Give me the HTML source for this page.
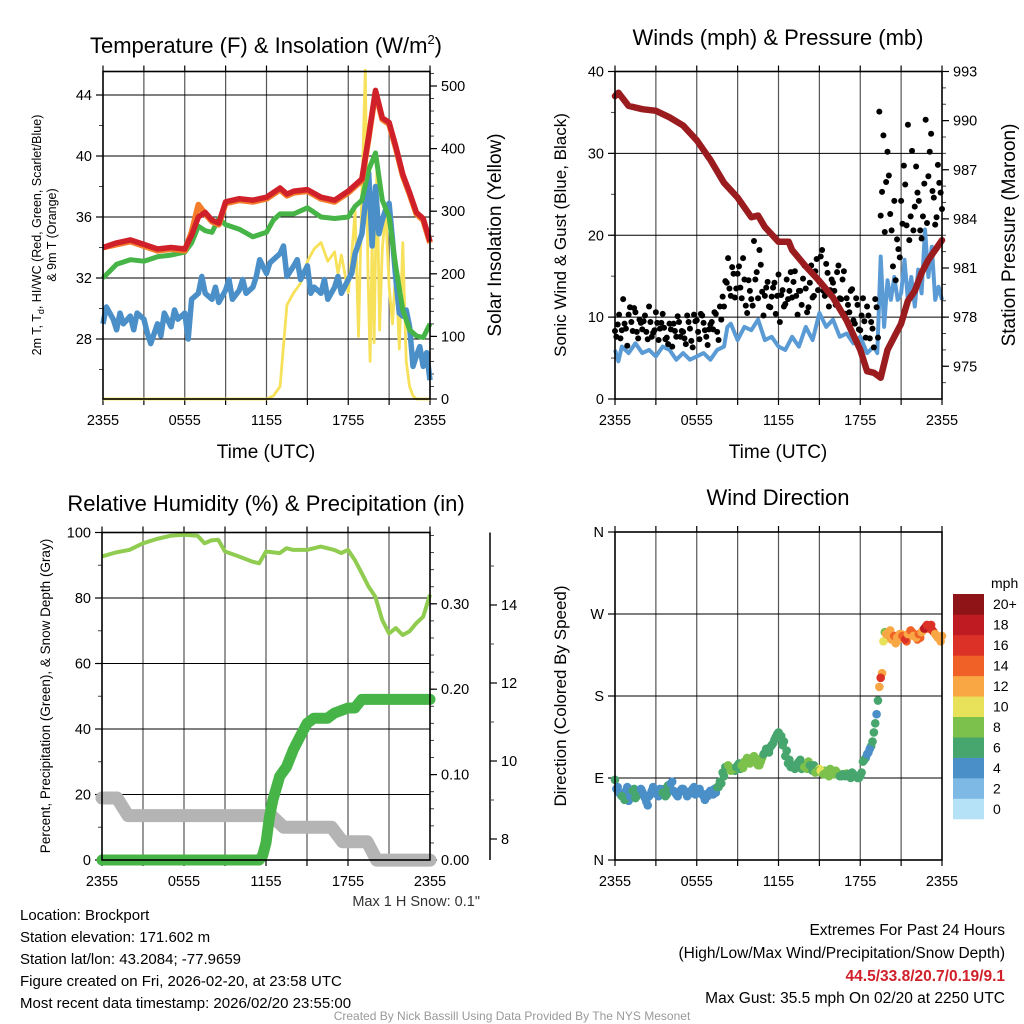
<!DOCTYPE html>
<html><head><meta charset="utf-8"><style>
html,body{margin:0;padding:0;background:#fff;}
svg{display:block;font-family:"Liberation Sans",Arial,sans-serif;}
</style></head><body>
<svg id="root" xmlns="http://www.w3.org/2000/svg" width="1024" height="1024" viewBox="0 0 1024 1024">
<rect width="1024" height="1024" fill="#fff"/>
<g id="layer"></g>
<text x="266" y="53" font-size="22" text-anchor="middle">Temperature (F) &amp; Insolation (W/m<tspan font-size="13" dy="-9">2</tspan><tspan dy="9">)</tspan></text>
<text x="778" y="45" font-size="22" text-anchor="middle">Winds (mph) &amp; Pressure (mb)</text>
<text x="266" y="511" font-size="22" text-anchor="middle">Relative Humidity (%) &amp; Precipitation (in)</text>
<text x="778" y="505" font-size="22" text-anchor="middle">Wind Direction</text>
<text transform="translate(41,235) rotate(-90)" font-size="12.5" text-anchor="middle">2m T, T<tspan font-size="9" dy="3">d</tspan><tspan dy="-3">, HI/WC (Red, Green, Scarlet/Blue)</tspan></text>
<text transform="translate(56,235) rotate(-90)" font-size="12.5" text-anchor="middle">&amp; 9m T (Orange)</text>
<text transform="translate(501,235) rotate(-90)" font-size="19" text-anchor="middle">Solar Insolation (Yellow)</text>
<text x="266" y="458" font-size="19" text-anchor="middle">Time (UTC)</text>
<text transform="translate(566,235) rotate(-90)" font-size="17" text-anchor="middle">Sonic Wind &amp; Gust (Blue, Black)</text>
<text transform="translate(1015,235) rotate(-90)" font-size="19" text-anchor="middle">Station Pressure (Maroon)</text>
<text x="778" y="458" font-size="19" text-anchor="middle">Time (UTC)</text>
<text transform="translate(50,696) rotate(-90)" font-size="13.5" text-anchor="middle">Percent, Precipitation (Green), &amp; Snow Depth (Gray)</text>
<text transform="translate(566,696) rotate(-90)" font-size="17" text-anchor="middle">Direction (Colored By Speed)</text>
<text x="480" y="906" font-size="14.5" text-anchor="end" fill="#333">Max 1 H Snow: 0.1"</text>
<text x="991" y="588" font-size="14">mph</text>
<g font-size="15">
<text x="20" y="920">Location: Brockport</text>
<text x="20" y="942">Station elevation: 171.602 m</text>
<text x="20" y="964">Station lat/lon: 43.2084; -77.9659</text>
<text x="20" y="986">Figure created on Fri, 2026-02-20, at 23:58 UTC</text>
<text x="20" y="1008">Most recent data timestamp: 2026/02/20 23:55:00</text>
</g>
<g font-size="15.5" text-anchor="end">
<text x="1005" y="935">Extremes For Past 24 Hours</text>
<text x="1005" y="958">(High/Low/Max Wind/Precipitation/Snow Depth)</text>
<text x="1005" y="981" fill="#d0202a" font-weight="bold">44.5/33.8/20.7/0.19/9.1</text>
<text x="1005" y="1003">Max Gust: 35.5 mph On 02/20 at 2250 UTC</text>
</g>
<text x="512" y="1020" font-size="12" fill="#999" text-anchor="middle">Created By Nick Bassill Using Data Provided By The NYS Mesonet</text>
</svg>
<script>
// ---------- data ----------
const xTickLabels = ["2355","0555","1155","1755","2355"];
const tempTicks = [28,32,36,40,44];
const solarTicks = [0,100,200,300,400,500];
const windTicks = [0,10,20,30,40];
const presTicks = [975,978,981,984,987,990,993];
const rhTicks = [0,20,40,60,80,100];
const precipTicks = [0,0.1,0.2,0.3];
const precipLabels = ["0.00","0.10","0.20","0.30"];
const snowTicks = [8,10,12,14];
const dirTicks = [0,90,180,270,360];
const dirLabels = ["N","E","S","W","N"];
const cbLabels = ["0","2","4","6","8","10","12","14","16","18","20+"];
const cbColors = ["#b5e2f7","#7eb9e5","#4a8fc8","#47a56e","#7cc14b","#e8e25a","#f8a744","#f06128","#dc3126","#be1b22","#8e1418"];

const redHours = [0,1,2,3,4,5,6,6.5,7,7.5,8,8.5,9,10,11,12,13,13.5,14,15,16,17,18,19,19.5,20,20.5,21,21.5,22,22.5,23,23.5,24];
const redTemp = [34.0,34.3,34.5,34.2,33.9,34.0,33.9,34.8,36.0,36.3,35.8,35.6,37.0,37.2,37.1,37.3,37.9,37.5,37.7,37.8,37.3,37.1,37.7,38.5,41.3,44.3,42.5,42.2,40.6,38.8,37.6,36.3,35.9,34.4];
const orangeTemp = [34.0,34.2,34.4,34.1,33.8,33.9,33.8,35.0,36.8,36.2,35.7,35.5,36.9,37.1,37.0,37.2,37.8,37.4,37.6,37.7,37.2,37.0,37.6,38.4,41.2,44.2,42.4,42.1,40.5,38.7,37.5,36.2,35.8,34.3];
const greenHours = [0,1,2,3,4,5,6,6.5,7,7.5,8,8.5,9,10,11,12,12.5,13,14,15,16,17,18,18.5,19,19.5,20,20.5,21,21.5,22,22.5,23,23.5,24];
const greenTemp = [32.0,32.9,33.2,33.1,33.4,33.5,33.7,34.3,35.4,35.1,35.0,35.9,35.5,35.2,34.7,35.0,35.8,36.2,36.2,36.6,36.0,35.9,36.0,36.7,37.1,39.1,40.2,37.1,36.0,32.7,29.9,28.6,28.2,28.1,29.0];
const blueHours = [0,0.25,0.5,0.75,1,1.25,1.5,2,2.25,2.5,3,3.25,3.5,4,4.25,4.5,5,5.25,5.5,6,6.25,6.5,7,7.25,7.5,8,8.25,8.5,9,9.25,9.5,10,10.25,10.5,11,11.25,11.5,12,12.25,12.5,13,13.25,13.5,14,14.25,14.5,15,15.25,15.5,16,16.25,16.5,17,17.25,17.5,18,18.25,18.5,19,19.25,19.5,19.75,20,20.25,20.5,20.75,21,21.25,21.5,21.75,22,22.25,22.5,22.75,23,23.25,23.5,23.75,24];
const blueTemp = [29.0,30.1,29.7,29.3,28.6,29.7,29.0,29.5,28.6,29.7,29.3,28.4,27.7,29.0,28.2,29.7,28.8,29.9,29.3,29.7,28.0,30.6,31.0,32.1,31.0,30.6,31.4,30.4,31.2,31.9,30.6,31.2,31.9,31.0,31.4,32.1,33.2,32.3,33.0,33.2,33.6,34.1,32.1,32.8,33.2,31.9,32.8,31.0,31.4,31.0,31.9,30.6,31.4,32.1,31.0,31.9,32.3,33.6,34.9,36.9,38.9,34.1,38.0,34.9,35.8,36.5,36.9,34.5,31.9,29.7,29.5,29.9,28.8,26.2,26.9,27.5,26.2,27.1,25.3];
const solarHours = [0,12,12.5,13,13.5,14,14.5,15,15.5,16,16.5,17,17.25,17.5,18,18.25,18.5,18.75,19,19.25,19.45,19.6,19.75,19.9,20.1,20.3,20.5,20.75,21,21.25,21.5,21.75,22,22.25,22.5,22.75,23,24];
const solarValue = [0,0,5,20,150,170,185,220,240,250,220,235,200,230,170,230,300,100,330,525,200,60,250,90,370,110,240,300,180,120,210,80,250,60,20,5,0,0];

const presHours = [0,0.25,1,2,3,4,5,6,7,8,9,10,10.5,11,12,12.75,13,14,15,16,17,18,18.5,19,19.5,20,20.5,21,21.5,22,22.5,23,23.5,24];
const presValue = [991.5,991.7,990.9,990.7,990.6,990.2,989.7,988.8,987.6,986.2,985.3,984.1,984.2,983.5,982.6,982.6,982.1,981.1,980.2,979.2,977.8,976.0,974.7,974.6,974.3,976.0,976.8,977.6,979.0,979.6,980.7,981.5,982.1,982.7];
const windHours = [0,0.25,0.5,1,1.5,2,2.5,3,3.5,4,4.5,5,5.5,6,6.5,7,7.5,8,8.25,8.5,9,9.5,10,10.5,11,11.5,12,12.5,13,13.5,14,14.5,15,15.5,16,16.5,17,17.5,18,18.5,19,19.25,19.5,19.75,20,20.25,20.5,20.75,21,21.25,21.5,21.75,22,22.25,22.5,22.75,23,23.25,23.5,23.75,24];
const windSpeed = [6.0,4.6,6.4,5.6,6.8,5.6,6.0,5.2,6.4,6.0,4.8,5.6,4.8,5.2,5.6,4.8,6.0,6.4,8.8,9.2,7.2,8.8,8.4,9.7,7.2,7.6,6.4,6.0,7.6,6.4,8.8,7.2,10.5,8.8,9.7,7.6,8.0,6.8,7.6,5.6,6.4,5.6,17.4,8.8,14.5,12.1,14.9,12.1,12.9,17.0,12.1,14.9,11.3,15.8,12.9,20.7,14.9,18.6,12.1,13.7,12.1];
// gusts every 0.2 h from 2355
const gustValue = [8.3,9.1,7.4,12.2,8.6, 10.3,9.4,11.1,8.2,9.7, 8.5,10.2,7.3,9.4,8.1, 10.6,7.2,9.3,8.7,7.5, 9.2,6.4,8.3,10.1,7.6, 8.2,6.7,9.4,7.1,10.3, 9.6,7.3,10.2,8.4,6.6, 9.1,8.5,10.4,7.2,9.7,
 11.3,14.2,13.5,16.1,12.4, 15.3,13.6,17.2,11.4,14.5, 12.2,19.3,15.5,18.2,13.1, 12.6,14.3,11.2,13.6,10.4, 15.2,12.7,11.3,14.6,13.2, 12.4,15.6,10.3,13.2,14.7, 13.5,11.2,16.3,12.6,17.1, 14.3,18.2,12.6,15.4,13.3,
 14.2,11.5,16.3,12.2,15.6, 12.3,10.6,13.4,9.2,11.5, 8.4,12.3,7.5,10.2,9.4, 6.3,11.2,35.1,25.3,20.4, 30.2,22.6,16.2,14.5,18.3, 24.2,28.5,21.2,19.4,30.3, 23.5,25.2,20.6,22.3,34.1, 27.2,32.4,24.6,22.2,26.4,23.2];
// gusts offset by 0.1 h
const gustValue2 = [7.6,10.3,8.4,9.2,6.5, 11.2,8.3,10.6,7.4,9.3, 9.5,8.2,11.3,7.6,8.4, 9.3,8.6,10.4,7.3,6.7, 8.5,9.2,7.6,9.4,8.3, 7.4,10.2,8.6,6.3,9.5, 8.2,10.4,9.3,7.6,8.5, 9.4,10.6,8.2,11.3,12.5,
 14.4,17.2,12.6,15.3,13.5, 16.2,12.3,14.6,10.5,13.2, 11.4,14.6,12.3,16.4,10.2, 13.6,11.3,12.5,14.2,12.6, 9.4,13.3,11.6,12.2,15.5, 14.3,12.6,13.2,11.5,16.3, 10.6,14.2,12.4,15.6,13.3, 17.4,13.2,16.5,11.3,14.6,
 13.2,15.5,12.3,14.6,10.4, 11.5,13.2,9.6,12.3,8.5, 10.2,9.5,11.3,7.4,8.6, 12.2,7.5,22.4,32.2,26.5, 27.3,20.6,24.2,19.5,17.3, 21.4,26.2,33.5,22.3,20.6, 28.4,24.2,19.6,26.3,21.5, 30.2,25.4,21.3,28.6,25.2];

const rhHours = [0,1,2,3,4,5,6,7,7.5,8,8.5,9,10,11,11.5,12,13,13.5,14,15,16,17,17.5,18,18.5,19,19.5,20,20.5,21,21.5,22,22.5,23,23.5,24];
const rhValue = [92.7,93.9,94.7,96.7,98.0,99.0,99.3,99.0,96.7,97.6,97.8,94.2,92.7,91.1,90.6,94.2,93.7,95.2,94.7,94.7,95.7,94.7,93.7,94.7,91.6,87.6,83.5,80.4,73.3,69.2,70.8,68.7,69.8,72.3,74.3,81.0];
const precipHours = [0,11.5,11.75,12,12.25,12.5,13,13.5,14,14.5,15,15.5,16,16.5,17,18,18.5,19,24];
const precipValue = [0,0,0.005,0.02,0.05,0.07,0.098,0.109,0.129,0.145,0.16,0.166,0.166,0.166,0.172,0.178,0.178,0.188,0.188];
const snowHours = [0,1.1,1.9,12.4,13.3,16.8,17.6,19.4,20.1,24];
const snowValue = [9.05,9.05,8.6,8.6,8.3,8.3,7.93,7.93,7.46,7.46];
// wind direction every 0.2 h
const dirValue = [88,80,72,70,76, 65,72,78,70,74, 75,68,60,72,80, 74,70,76,78,72, 80,86,74,70,76, 78,74,72,76,80, 74,78,72,66,70, 76,72,74,80,84,
 92,100,102,100,98, 104,100,101,106,110, 108,114,106,104,112, 118,120,124,128,135, 140,136,130,120,110, 104,100,106,110,104, 102,108,100,104,98, 100,96,98,94,100,
 96,98,94,92,94, 95,92,96,93,90, 92,108,112,118,125, 140,160,190,205,250, 244,252,246,238,242, 248,244,240,246,250, 246,242,244,252,256, 254,258,250,246,244,246];
// wind direction offset by 0.1 h
const dirValue2 = [78,74,70,66,80, 70,76,68,72,78, 72,64,70,76,74, 72,78,74,70,82, 84,76,72,74,78, 76,70,74,78,72, 76,74,70,72,74, 74,78,80,86,96,
 102,104,98,100,102, 106,104,108,112,106, 110,112,104,108,116, 122,118,126,132,138, 134,126,114,106,102, 102,104,108,100,102, 100,104,98,96,98, 98,94,96,92,96,
 94,96,92,94,92, 94,90,94,92,90, 96,110,116,122,130, 150,175,200,240,248, 250,242,246,244,248, 246,242,248,252,246, 244,248,250,254,258, 256,252,248,244,240];

// ---------- helpers ----------
const NS = "http://www.w3.org/2000/svg";
const layer = document.getElementById("layer");
function mk(tag, attrs, name, parent){
  const e = document.createElementNS(NS, tag);
  for (const k in attrs) e.setAttribute(k, attrs[k]);
  
  
  (parent || layer).appendChild(e);
  return e;
}
function lin(d0,d1,r0,r1){ return v => r0 + (v-d0)/(d1-d0)*(r1-r0); }
function pathD(xs, ys, fx, fy){ return xs.map((h,i)=>(i?"L":"M")+fx(h).toFixed(1)+","+fy(ys[i]).toFixed(1)).join(""); }
function interp(hs, vs, h){ for(let i=1;i<hs.length;i++){ if(h<=hs[i]){ const t=(h-hs[i-1])/(hs[i]-hs[i-1]); return vs[i-1]+t*(vs[i]-vs[i-1]); } } return vs[vs.length-1]; }

function panel(px0,px1,py0,py1,name){
  const fx = lin(0,24,px0,px1);
  const g = mk("g",{},name+"-grid");
  for(let h=3;h<24;h+=3){ mk("line",{x1:fx(h),x2:fx(h),y1:py0,y2:py1,stroke:"#555","stroke-width":1.2},name+"-vgrid",g); }
  for(let h=0;h<=24;h+=3){ mk("line",{x1:fx(h),x2:fx(h),y1:py1,y2:py1+6,stroke:"#000","stroke-width":1.2},name+"-xtick",g); }
  for(let h=0;h<=24;h+=3){ mk("line",{x1:fx(h),x2:fx(h),y1:py0,y2:py0-6,stroke:"#000","stroke-width":1.2},name+"-xtick-top",g); }
  xTickLabels.forEach((t,i)=>{ const tx=mk("text",{x:fx(i*6),y:py1+26,"font-size":14.5,"text-anchor":"middle"},name+"-xlabel",g); tx.textContent=t; });
  return fx;
}
function hgrid(fy,vals,px0,px1,name){ vals.forEach(v=>mk("line",{x1:px0,x2:px1,y1:fy(v),y2:fy(v),stroke:"#000","stroke-width":1.1},name+"-hgrid")); }
function yTicks(fy,vals,labels,x,side,name,fs){
  vals.forEach((v,i)=>{
    mk("line",{x1:x,x2:x+(side<0?-7:7),y1:fy(v),y2:fy(v),stroke:"#000","stroke-width":1.2},name+"-tick");
    const t=mk("text",{x:x+(side<0?-11:11),y:fy(v)+5,"font-size":fs||14.5,"text-anchor":side<0?"end":"start"},name+"-label");
    t.textContent=labels?labels[i]:String(v);
  });
}
function minor(fy,from,to,step,x,side,name){ for(let v=from;v<=to+1e-9;v+=step){ mk("line",{x1:x,x2:x+side*4,y1:fy(v),y2:fy(v),stroke:"#444","stroke-width":1},name+"-minor"); } }
function box(x0,x1,y0,y1,name){ mk("rect",{x:x0,y:y0,width:x1-x0,height:y1-y0,fill:"none",stroke:"#000","stroke-width":1.6},name); }

// ---------- panel 1 ----------
{
  const X0=103,X1=430,Y0=71.5,Y1=399;
  const fx = panel(X0,X1,Y0,Y1,"temp-panel");
  const fT = lin(28,44,339,95);
  const fS = lin(0,500,399,86);
  hgrid(fT,tempTicks,X0,X1,"temp");
  minor(fT,26,44,2,X0,-1,"temp-left"); minor(fS,0,520,20,X1,1,"solar-right");
  yTicks(fT,tempTicks,null,X0,-1,"temp-y");
  yTicks(fS,solarTicks,null,X1,1,"solar-y");
  mk("path",{d:pathD(solarHours,solarValue,fx,fS),fill:"none",stroke:"#f7e15a","stroke-width":2.8,"stroke-linejoin":"round"},"solar-line");
  mk("path",{d:pathD(blueHours,blueTemp,fx,fT),fill:"none",stroke:"#4a8fc8","stroke-width":5.5,"stroke-linejoin":"round"},"windchill-line");
  mk("path",{d:pathD(greenHours,greenTemp,fx,fT),fill:"none",stroke:"#46b446","stroke-width":5,"stroke-linejoin":"round"},"dewpoint-line");
  mk("path",{d:pathD(redHours,orangeTemp,fx,fT),fill:"none",stroke:"#f47c2a","stroke-width":6,"stroke-linejoin":"round"},"temp-9m-line");
  mk("path",{d:pathD(redHours,redTemp,fx,fT),fill:"none",stroke:"#d0202a","stroke-width":5.5,"stroke-linejoin":"round"},"temp-2m-line");
  box(X0,X1,Y0,Y1,"temp-plot-frame");
}
// ---------- panel 2 ----------
{
  const X0=615,X1=942,Y0=71.5,Y1=399;
  const fx = panel(X0,X1,Y0,Y1,"wind-panel");
  const fW = lin(0,40,Y1,Y0);
  const fP = lin(993,973,Y0,Y1);
  hgrid(fW,[10,20,30],X0,X1,"wind");
  minor(fW,0,40,5,X0,-1,"wind-left"); minor(fP,974,993,1,X1,1,"pres-right");
  yTicks(fW,windTicks,null,X0,-1,"wind-y");
  yTicks(fP,presTicks,null,X1,1,"pres-y");
  mk("path",{d:pathD(windHours,windSpeed,fx,fW),fill:"none",stroke:"#5b9bd5","stroke-width":4,"stroke-linejoin":"round"},"wind-speed-line");
  const gg = mk("g",{},"gust-points");
  gustValue.forEach((v,i)=>{ mk("circle",{cx:fx(i*0.2),cy:fW(v),r:3,fill:"#000"},"gust-point",gg); });
  gustValue2.forEach((v,i)=>{ mk("circle",{cx:fx(i*0.2+0.1),cy:fW(v),r:3,fill:"#000"},"gust-point",gg); });
  mk("path",{d:pathD(presHours,presValue,fx,fP),fill:"none",stroke:"#9b1c1f","stroke-width":6.5,"stroke-linejoin":"round","stroke-linecap":"round"},"pressure-line");
  box(X0,X1,Y0,Y1,"wind-plot-frame");
}
// ---------- panel 3 ----------
{
  const X0=102,X1=430,Y0=532.5,Y1=860;
  const fx = panel(X0,X1,Y0,Y1,"rh-panel");
  const fR = lin(0,100,Y1,Y0);
  const fPr = lin(0,0.1,Y1,Y1-85.4);
  const fSn = lin(8,10,839,761);
  hgrid(fR,[20,40,60,80],X0,X1,"rh");
  minor(fR,0,100,10,X0,-1,"rh-left"); minor(fPr,0,0.38,0.02,X1,1,"precip-right");
  yTicks(fR,rhTicks,null,X0,-1,"rh-y");
  yTicks(fPr,precipTicks,precipLabels,X1,1,"precip-y");
  mk("line",{x1:490,x2:490,y1:Y0,y2:Y1,stroke:"#000","stroke-width":1.5},"snow-axis-line");
  minor(fSn,8,15.8,1,490,1,"snow-right");
  yTicks(fSn,snowTicks,null,490,1,"snow-y");
  mk("path",{d:pathD(snowHours,snowValue,fx,fSn),fill:"none",stroke:"#b4b4b4","stroke-width":13,"stroke-linejoin":"round","stroke-linecap":"round"},"snow-depth-line");
  mk("path",{d:pathD(precipHours,precipValue,fx,fPr),fill:"none",stroke:"#46b446","stroke-width":11,"stroke-linejoin":"round","stroke-linecap":"round"},"precip-line");
  mk("path",{d:pathD(rhHours,rhValue,fx,fR),fill:"none",stroke:"#8fcc50","stroke-width":4,"stroke-linejoin":"round"},"rh-line");
  box(X0,X1,Y0,Y1,"rh-plot-frame");
}
// ---------- panel 4 ----------
{
  const X0=615,X1=942,Y0=532,Y1=860;
  const fx = panel(X0,X1,Y0,Y1,"dir-panel");
  const fD = lin(0,360,Y1,Y0);
  hgrid(fD,[90,180,270],X0,X1,"dir");
  yTicks(fD,dirTicks,dirLabels,X0,-1,"dir-y",14.5);
  const dg = mk("g",{},"direction-points");
  function dot(h,v){
    const sp = interp(windHours,windSpeed,h);
    const ci = Math.max(0,Math.min(10,Math.floor(sp/2)));
    const c = mk("circle",{cx:fx(h),cy:fD(v),r:4.3,fill:cbColors[ci]},"direction-point",dg);
    return c;
  }
  dirValue.forEach((v,i)=>dot(i*0.2,v));
  dirValue2.forEach((v,i)=>dot(i*0.2+0.1,v));
  box(X0,X1,Y0,Y1,"dir-plot-frame");
  const cb = mk("g",{},"speed-colorbar");
  const bh = 225/11;
  cbColors.forEach((c,i)=>{
    const y = 819 - (i+1)*bh;
    mk("rect",{x:953,y:y,width:31,height:bh+0.3,fill:c},"colorbar-swatch",cb);
    const t = mk("text",{x:993,y:y+bh/2+5,"font-size":14},"colorbar-label",cb);
    t.textContent = cbLabels[i];
  });
}
</script>
</body></html>
